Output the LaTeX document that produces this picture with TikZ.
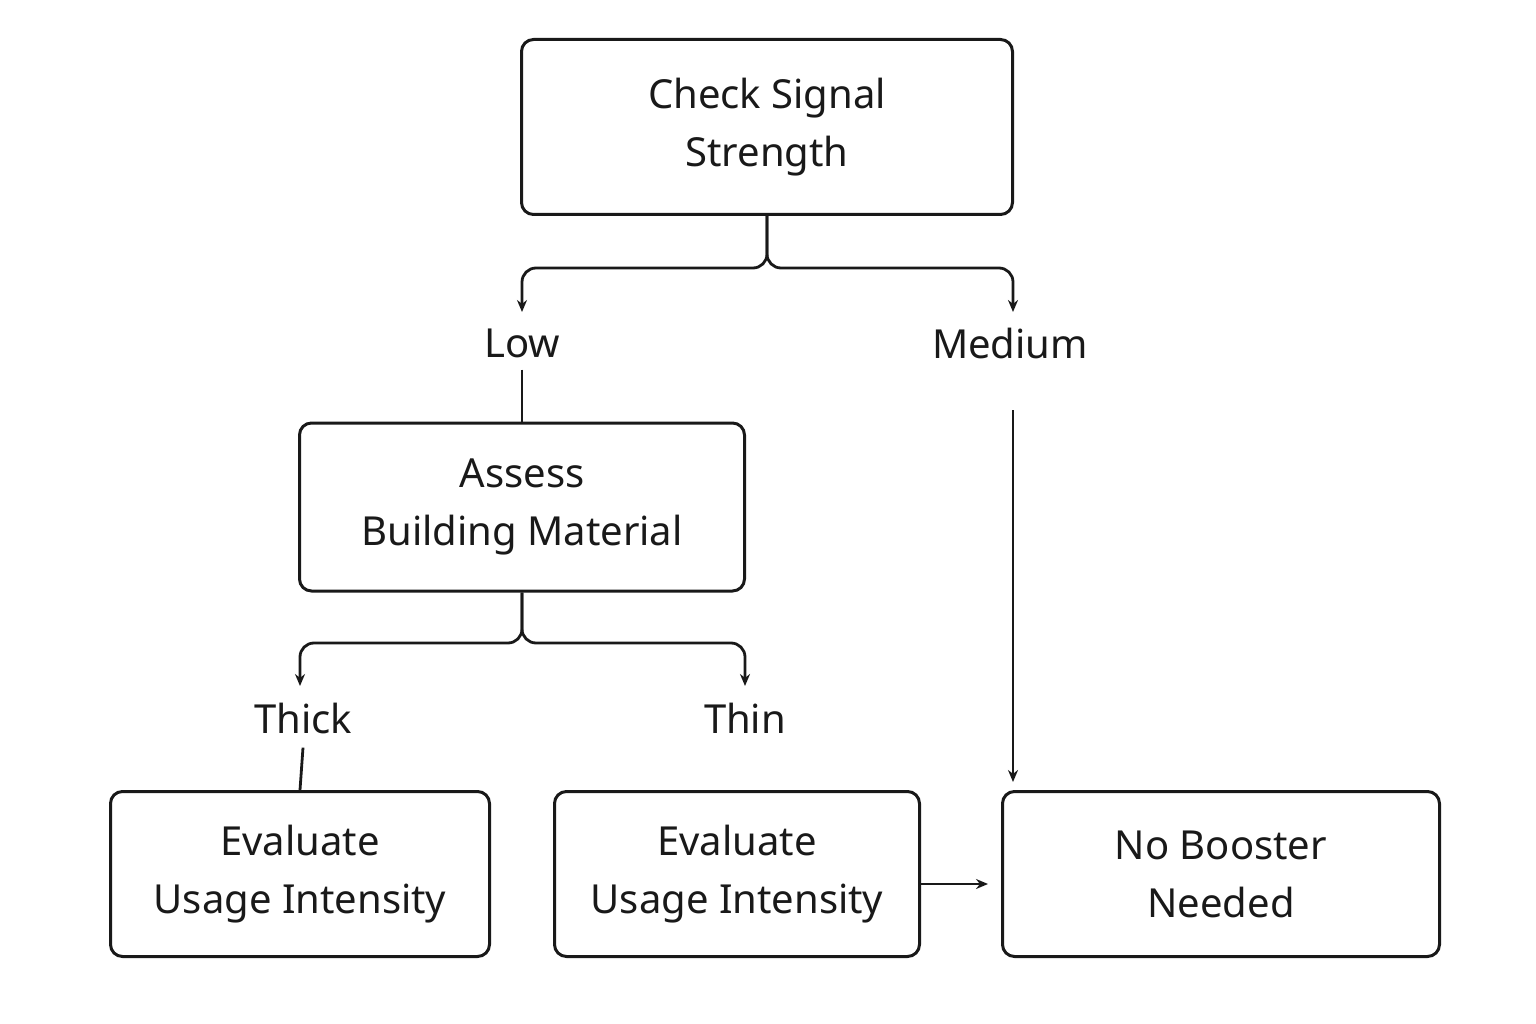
\documentclass[tikz,border=0pt]{standalone}
\usepackage{fontspec}
\setmainfont{Noto Sans}
\usetikzlibrary{arrows.meta}
\begin{document}
\begin{tikzpicture}[x=1pt,y=-1pt,
  box/.style={draw=black!90,line width=3pt,rounded corners=12pt,align=center,font=\fontsize{40}{58}\selectfont,inner sep=0pt,text=black!90},
  lbl/.style={font=\fontsize{40}{48}\selectfont,text=black!90,inner sep=0pt},
  ln/.style={draw=black!90,line width=2.8pt,rounded corners=14pt},
  arr/.style={ln,-{Stealth[length=12pt,width=10pt]}}]
\useasboundingbox (0,0) rectangle (1536,1024);
\node[box,minimum width=491pt,minimum height=175pt] (top) at (767,127) {Check Signal\\Strength};
\node[box,minimum width=445pt,minimum height=168pt] (assess) at (522,507) {Assess\\Building Material};
\node[box,minimum width=379pt,minimum height=165pt] (ev1) at (300,874) {Evaluate\\Usage Intensity};
\node[box,minimum width=365pt,minimum height=165pt] (ev2) at (737,874) {Evaluate\\Usage Intensity};
\node[box,minimum width=437pt,minimum height=165pt] (nb) at (1221,874) {No Booster\\Needed};
\node[lbl] (low) at (522,343) {Low};
\node[lbl] (med) at (1010,343) {Medium};
\node[lbl] (thick) at (303,718) {Thick};
\node[lbl] (thin) at (745,718) {Thin};
\coordinate (lowin) at (522,312);
\coordinate (medin) at (1013,312);
\coordinate (thickin) at (300,686);
\coordinate (thinin) at (745,686);
\coordinate (medout) at (1013,410);
\coordinate (nbin) at (1013,782);
\draw[arr] (top.south) -- (767,268) -| (lowin);
\draw[arr] (top.south) -- (767,268) -| (medin);
\draw[ln] (low.south)+(0,12) -- (assess.north);
\draw[arr] (assess.south) -- (522,643) -| (thickin);
\draw[arr] (assess.south) -- (522,643) -| (thinin);
\draw[ln] (thick.south)+(0,14) -- (ev1.north);
\draw[arr] (medout) -- (nbin);
\draw[arr] (ev2.east |- 0,884) -- (988,884);
\end{tikzpicture}
\end{document}
